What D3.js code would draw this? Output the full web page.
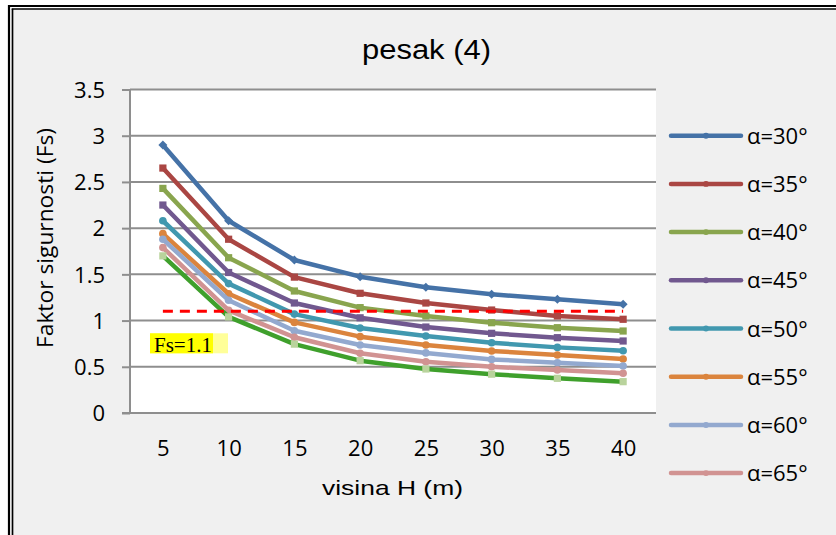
<!DOCTYPE html>
<html><head><meta charset="utf-8">
<script src="https://cdn.jsdelivr.net/npm/d3@7"></script>
<style>html,body{margin:0;padding:0;background:#fff;}svg{display:block;}</style>
</head><body>
<svg id="chart" width="836" height="535"></svg>
<script>
// ---- data ----
const categories = ["5","10","15","20","25","30","35","40"];
const seriesNames = ["α=30°","α=35°","α=40°","α=45°","α=50°","α=55°","α=60°","α=65°","α=70°"];
const a30 = [2.90, 2.08, 1.655, 1.475, 1.36, 1.284, 1.23, 1.176];
const a35 = [2.65, 1.88, 1.47, 1.295, 1.19, 1.114, 1.05, 1.014];
const a40 = [2.43, 1.68, 1.32, 1.14, 1.05, 0.977, 0.923, 0.887];
const a45 = [2.25, 1.52, 1.19, 1.03, 0.93, 0.862, 0.815, 0.779];
const a50 = [2.08, 1.40, 1.07, 0.92, 0.833, 0.76, 0.71, 0.674];
const a55 = [1.94, 1.29, 0.98, 0.826, 0.736, 0.671, 0.627, 0.584];
const a60 = [1.88, 1.22, 0.89, 0.736, 0.65, 0.58, 0.544, 0.508];
const a65 = [1.79, 1.11, 0.82, 0.646, 0.555, 0.50, 0.465, 0.43];
const a70 = [1.70, 1.04, 0.745, 0.566, 0.476, 0.42, 0.375, 0.339];
const fsLimit = [1.1, 1.1, 1.1, 1.1, 1.1, 1.1, 1.1, 1.1];
const yTicks = [0, 0.5, 1, 1.5, 2, 2.5, 3, 3.5];
const yTickLabels = ["0","0.5","1","1.5","2","2.5","3","3.5"];
const titleText = "pesak (4)";
const xTitle = "visina H (m)";
const yTitle = "Faktor sigurnosti (Fs)";
const fsLabel = "Fs=1.1";

// ---- styles ----
const allValues = [a30,a35,a40,a45,a50,a55,a60,a65,a70];
const colors = ["#4572A7","#AA4643","#89A54E","#71588F","#4198AF","#DB843D","#93A9CF","#D19392","#3FA02C"];
const markerFill = ["#4572A7","#AA4643","#89A54E","#71588F","#4198AF","#DB843D","#93A9CF","#D19392","#B9D39C"];
const markerType = ["diamond","square","square","square","circle","circle","circle","circle","square"];
const calib = "'Open Sans', sans-serif";
const arial = "'Liberation Sans', Arial, sans-serif";

const svg = d3.select("#chart");
const W = 836, H = 535;
const plot = {l:130, r:656, t:89.5, b:413};

// background & double border
svg.append("rect").attr("x",0).attr("y",0).attr("width",W).attr("height",H).attr("fill","#fff");
svg.append("rect").attr("x",13.3).attr("y",9.7).attr("width",W).attr("height",H).attr("fill","#f0f0f0");
svg.append("line").attr("x1",9).attr("x2",9).attr("y1",5).attr("y2",H).attr("stroke","#000").attr("stroke-width",2.2);
svg.append("line").attr("x1",12.5).attr("x2",12.5).attr("y1",8.8).attr("y2",H).attr("stroke","#000").attr("stroke-width",1.7);
svg.append("line").attr("x1",8).attr("x2",W).attr("y1",6).attr("y2",6).attr("stroke","#000").attr("stroke-width",2.2);
svg.append("line").attr("x1",11.7).attr("x2",W).attr("y1",9).attr("y2",9).attr("stroke","#000").attr("stroke-width",1.7);

// plot area
svg.append("rect").attr("x",plot.l).attr("y",plot.t).attr("width",plot.r-plot.l).attr("height",plot.b-plot.t).attr("fill","#fff");

const x = d3.scalePoint().domain(categories).range([plot.l, plot.r]).padding(0.5);
const y = d3.scaleLinear().domain([0,3.5]).range([plot.b, plot.t]);

// gridlines
svg.append("g").selectAll("line").data(yTicks.filter(d=>d>0)).join("line")
  .attr("x1",plot.l).attr("x2",plot.r).attr("y1",d=>y(d)).attr("y2",d=>y(d))
  .attr("stroke","#8e8e8e").attr("stroke-width",2);

// y axis
const yAxis = d3.axisLeft(y).tickValues(yTicks).tickFormat((d,i)=>yTickLabels[i]).tickSize(8).tickPadding(17);
const gy = svg.append("g").attr("transform",`translate(${plot.l},0)`).call(yAxis);
gy.select(".domain").attr("stroke","#8e8e8e").attr("stroke-width",2).attr("d",`M0,${plot.t}V${plot.b}`);
gy.selectAll(".tick line").attr("stroke","#8e8e8e").attr("stroke-width",2);
gy.selectAll(".tick text").attr("font-family",calib).attr("font-size",22).attr("fill","#000")
  .attr("dy",null).attr("y",7.8);

// x axis
const xAxis = d3.axisBottom(x).tickSize(0).tickPadding(0);
const gx = svg.append("g").attr("transform",`translate(0,${plot.b})`).call(xAxis);
gx.select(".domain").attr("stroke","#8e8e8e").attr("stroke-width",2).attr("d",`M${plot.l-8},0H${plot.r}`);
gx.selectAll(".tick text").attr("font-family",calib).attr("font-size",22).attr("fill","#000")
  .attr("dy",null).attr("y",42.7);

// series
const line = d3.line().x((d,i)=>x(categories[i])).y(d=>y(d));
function drawMarker(g, type, cx, cy, fill, s) {
  if (type==="diamond") {
    g.append("path").attr("d",`M${cx},${cy-s}L${cx+s},${cy}L${cx},${cy+s}L${cx-s},${cy}Z`).attr("fill",fill);
  } else if (type==="square") {
    g.append("rect").attr("x",cx-s*0.8).attr("y",cy-s*0.8).attr("width",s*1.6).attr("height",s*1.6).attr("fill",fill);
  } else {
    g.append("circle").attr("cx",cx).attr("cy",cy).attr("r",s*0.85).attr("fill",fill);
  }
}
allValues.forEach((vals, si) => {
  const g = svg.append("g");
  g.append("path").datum(vals).attr("d",line).attr("fill","none")
    .attr("stroke",colors[si]).attr("stroke-width",4.5).attr("stroke-linejoin","round");
  vals.forEach((v,i)=> drawMarker(g, markerType[si], x(categories[i]), y(v), markerFill[si], 4.5));
});

// Fs = 1.1 dashed reference line
svg.append("path").datum(fsLimit).attr("d",line).attr("fill","none")
  .attr("stroke","#ff0000").attr("stroke-width",3).attr("stroke-dasharray","10,7");

// Fs label with highlight
svg.append("rect").attr("x",150).attr("y",333.3).attr("width",78).attr("height",20).attr("fill","#ffff99");
svg.append("rect").attr("x",150).attr("y",333.3).attr("width",63).attr("height",20).attr("fill","#ffff00");
svg.append("text").attr("x",154).attr("y",351.5).attr("font-family","'Liberation Serif', 'Times New Roman', serif")
  .attr("font-size",21).attr("fill","#000").text(fsLabel);

// titles
svg.append("text").attr("x",362).attr("y",59.3).attr("font-family",arial).attr("font-size",27)
  .attr("textLength",129).attr("lengthAdjust","spacingAndGlyphs").attr("fill","#000").text(titleText);
svg.append("text").attr("x",322).attr("y",495).attr("font-family",arial).attr("font-size",21)
  .attr("textLength",141).attr("lengthAdjust","spacingAndGlyphs").attr("fill","#000").text(xTitle);
svg.append("text").attr("transform","translate(53,348) rotate(-90)").attr("x",0).attr("y",0)
  .attr("font-family",calib).attr("font-size",22).attr("textLength",220).attr("lengthAdjust","spacingAndGlyphs")
  .attr("fill","#000").text(yTitle);

// legend (only entries that fit, as in the reference)
const legTop = 135.7, legStep = 48.2;
seriesNames.forEach((name, si) => {
  const cy = legTop + si*legStep;
  if (cy > H - 20) return;
  const g = svg.append("g");
  g.append("line").attr("x1",671).attr("x2",741).attr("y1",cy).attr("y2",cy)
    .attr("stroke",colors[si]).attr("stroke-width",4.5).attr("stroke-linecap","round");
  drawMarker(g, "circle", 706, cy, markerFill[si], 3.5);
  g.append("text").attr("x",747).attr("y",cy+8).attr("font-family",calib).attr("font-size",22)
    .attr("fill","#000").text(name);
});
</script>
</body></html>
